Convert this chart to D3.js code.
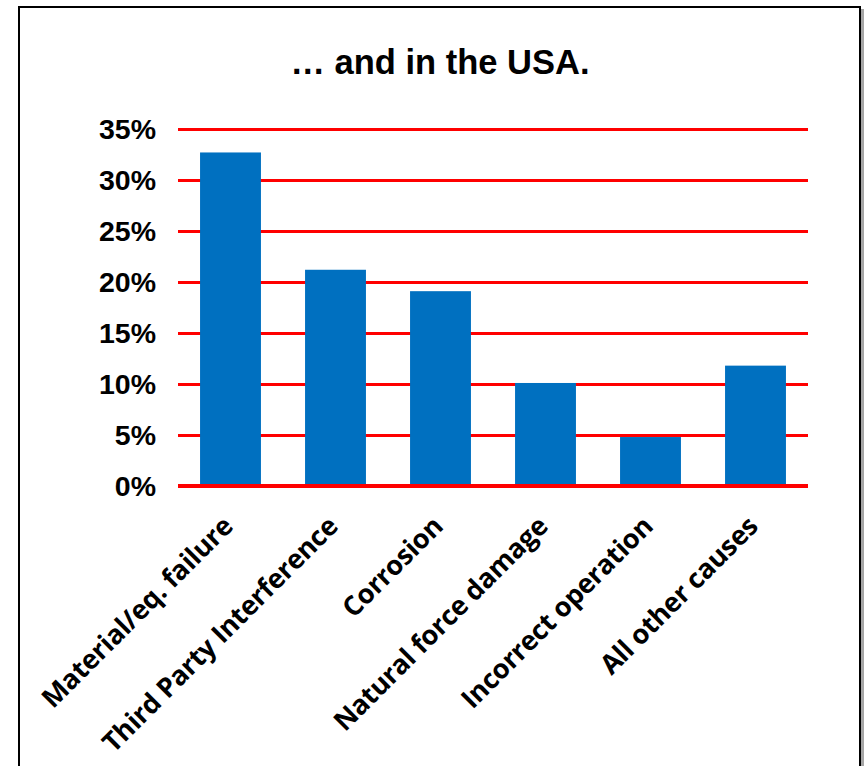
<!DOCTYPE html>
<html>
<head>
<meta charset="utf-8">
<script src="https://cdn.jsdelivr.net/npm/d3@7"></script>
<style>
  html, body { margin: 0; padding: 0; background: #fff; }
  svg { display: block; }
</style>
</head>
<body>
<svg id="chart" width="864" height="766"></svg>
<script>
const categories = ["Material/eq. failure", "Third Party Interference", "Corrosion", "Natural force damage", "Incorrect operation", "All other causes"];
const values = [32.7, 21.2, 19.1, 10.1, 4.8, 11.8];
const yTicks = [0, 5, 10, 15, 20, 25, 30, 35];
const title = "… and in the USA.";

const svg = d3.select("#chart");

// frame with shadow
svg.append("rect").attr("x", 21).attr("y", 9).attr("width", 843).attr("height", 800).attr("fill", "#a6a6a6");
svg.append("rect").attr("x", 19).attr("y", 7).attr("width", 841).attr("height", 800)
  .attr("fill", "#fff").attr("stroke", "#000").attr("stroke-width", 2);

const x = d3.scaleBand().domain(categories).range([178, 808]).paddingInner(0.42).paddingOuter(0.21);
const y = d3.scaleLinear().domain([0, 35]).range([486, 129]);

// gridlines
const grid = svg.append("g")
  .attr("transform", "translate(178,0)")
  .call(d3.axisLeft(y).tickValues(yTicks.slice(1)).tickSize(-630).tickFormat(""));
grid.select(".domain").remove();
grid.selectAll("line").attr("stroke", "#ff0000").attr("stroke-width", 3);

// bars
svg.append("g").selectAll("rect").data(values).join("rect")
  .attr("x", (d, i) => x(categories[i]))
  .attr("width", x.bandwidth())
  .attr("y", d => y(d))
  .attr("height", d => y(0) - y(d))
  .attr("fill", "#0070c0");

// baseline
svg.append("line").attr("x1", 178).attr("x2", 808).attr("y1", y(0)).attr("y2", y(0))
  .attr("stroke", "#ff0000").attr("stroke-width", 4);

// y axis labels
const yAxis = svg.append("g")
  .attr("transform", "translate(178,0)")
  .call(d3.axisLeft(y).tickValues(yTicks).tickSize(0).tickPadding(22).tickFormat(d => d + "%"));
yAxis.select(".domain").remove();
yAxis.selectAll("text")
  .attr("font-family", "Liberation Sans, Arial, sans-serif")
  .attr("font-weight", "bold")
  .attr("font-size", 28.5)
  .attr("fill", "#000");

// x axis labels
const xAxis = svg.append("g")
  .attr("transform", `translate(0,${y(0)})`)
  .call(d3.axisBottom(x).tickSize(0).tickPadding(0));
xAxis.select(".domain").remove();
xAxis.selectAll("text")
  .attr("font-family", "Open Sans, sans-serif")
  .attr("font-weight", "bold")
  .attr("font-size", 27)
  .attr("letter-spacing", -0.3)
  .attr("fill", "#000")
  .attr("text-anchor", "end")
  .attr("dy", 0)
  .attr("transform", "translate(4,42) rotate(-45)");

// title
svg.append("text").attr("x", 440).attr("y", 74).attr("text-anchor", "middle")
  .attr("font-family", "Liberation Sans, Arial, sans-serif")
  .attr("font-weight", "bold").attr("font-size", 34.5).attr("fill", "#000")
  .text(title);
</script>
</body>
</html>
